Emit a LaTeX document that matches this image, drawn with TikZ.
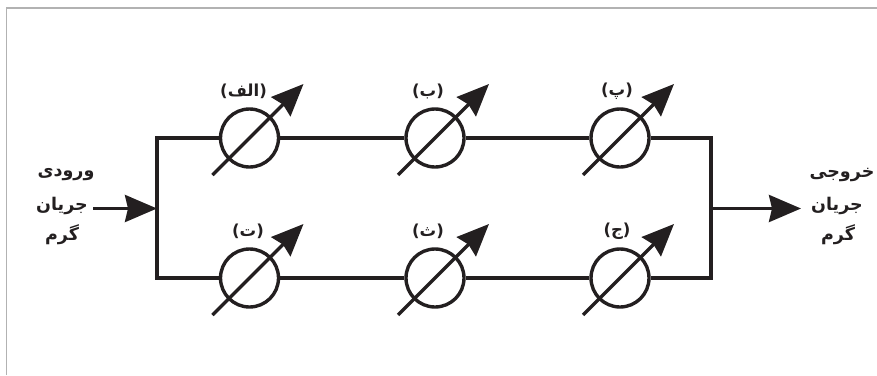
\documentclass[tikz,border=0pt]{standalone}
\usepackage{fontspec}
\usetikzlibrary{arrows.meta}
\TeXXeTstate=1
\newfontfamily\arabicfont[Script=Arabic]{DejaVu Sans}
\newcommand{\fa}[1]{{\arabicfont\bfseries\beginR #1\endR}}
\definecolor{ink}{HTML}{231F20}
\tikzset{
  wire/.style={draw=ink,line width=3.4pt,line join=miter},
  heat/.style={circle,draw=ink,line width=3.4pt,fill=white,minimum size=58pt,inner sep=0pt},
  tiphead/.style={-{Stealth[length=32pt,width=27pt,inset=3pt,fill=ink]}},
  valve/.style={wire,tiphead},
  lab/.style={text=ink,font=\fontsize{16.5pt}{18pt}\selectfont,inner sep=0pt},
  side/.style={text=ink,font=\fontsize{17.5pt}{19pt}\selectfont,inner sep=0pt},
}
\begin{document}
\begin{tikzpicture}[x=1pt,y=-1pt]
\useasboundingbox (0,0) rectangle (877,375);
\draw[draw=black!30,line width=1.5pt] (6.5,375) -- (6.5,8) -- (877,8);

\node[heat] (a1) at (249.5,138) {};
\node[heat] (a2) at (435,138) {};
\node[heat] (a3) at (620,138) {};
\node[heat] (b1) at (249.5,278) {};
\node[heat] (b2) at (435,278) {};
\node[heat] (b3) at (620,278) {};

\coordinate (jl) at (157,208.5);
\coordinate (jr) at (711,208.5);
\coordinate (tl) at (157,138);
\coordinate (tr) at (711,138);
\coordinate (ll) at (157,278);
\coordinate (lr) at (711,278);
\coordinate (in) at (93,208.5);
\coordinate (out) at (801,208.5);

\draw[wire] (a1) -- (tl) -- (ll) -- (b1);
\draw[wire] (a3) -- (tr) -- (lr) -- (b3);
\draw[wire] (a1) -- (a2);
\draw[wire] (a2) -- (a3);
\draw[wire] (b1) -- (b2);
\draw[wire] (b2) -- (b3);
\draw[wire,tiphead] (in) -- (jl);
\draw[wire,tiphead] (jr) -- (out);

\foreach \n in {a1,a2,a3,b1,b2,b3}{
  \coordinate (\n s) at ([shift={(-37,37)}]\n.center);
  \coordinate (\n e) at ([shift={(54,-54)}]\n.center);
  \draw[valve] (\n s) -- (\n e);
}

\node[lab] (la1) at (243.5,91) {\fa{(الف)}};
\node[lab] (la2) at (428,91) {\fa{(ب)}};
\node[lab] (la3) at (617,91) {\fa{(پ)}};
\node[lab] (lb1) at (248,231) {\fa{(ت)}};
\node[lab] (lb2) at (428,231) {\fa{(ث)}};
\node[lab] (lb3) at (617,231) {\fa{(ج)}};

\node[side] (i1) at (66,175) {\fa{ورودی}};
\node[side] (i2) at (62,206) {\fa{جریان}};
\node[side] (i3) at (62,235) {\fa{گرم}};
\node[side] (o1) at (842,175) {\fa{خروجی}};
\node[side] (o2) at (837,206) {\fa{جریان}};
\node[side] (o3) at (838,235) {\fa{گرم}};
\end{tikzpicture}
\end{document}
